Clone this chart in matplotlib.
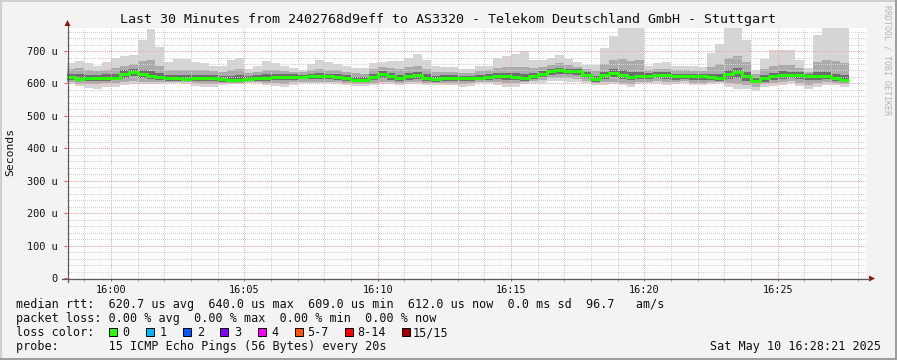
import numpy as np
import matplotlib
matplotlib.use("Agg")
import matplotlib.pyplot as plt
from matplotlib.patches import Rectangle, Polygon
from matplotlib.lines import Line2D

W, H = 897, 360
plt.rcParams['font.family'] = ['DejaVu Sans Mono', 'DejaVu Sans']

title = "Last 30 Minutes from 2402768d9eff to AS3320 - Telekom Deutschland GmbH - Stuttgart"
y_label = "Seconds"
watermark = "RRDTOOL / TOBI OETIKER"

# time axis: seconds after 15:58:21 (left edge of graph), window 1800 s
window_s = 1800
data_offset_s = -1          # first 20 s step starts at 15:58:20
step_s = 20

# median RTT per 20 s step (microseconds)
median = [620, 614, 616, 616, 617, 618, 629, 635, 629, 623,
          620, 616, 616, 614, 616, 616, 616, 614, 612, 612,
          614, 616, 617, 620, 619, 620, 620, 622, 622, 622,
          620, 616, 612, 610, 620, 629, 622, 616, 622, 625,
          617, 614, 616, 617, 616, 616, 617, 620, 622, 622,
          620, 617, 624, 630, 637, 640, 638, 637, 626, 614,
          626, 632, 626, 620, 622, 623, 626, 626, 622, 622,
          622, 622, 620, 617, 628, 635, 622, 609, 616, 622,
          626, 626, 625, 622, 622, 622, 617, 612]
# slowest ping per step
ping_max = [664, 669, 662, 653, 666, 680, 684, 687, 734, 768,
            713, 667, 674, 674, 666, 662, 655, 655, 672, 680,
            644, 655, 669, 662, 653, 647, 643, 660, 672, 666,
            660, 655, 647, 647, 663, 666, 670, 670, 680, 690,
            672, 655, 651, 651, 645, 644, 655, 655, 680, 684,
            692, 700, 672, 672, 680, 687, 676, 667, 658, 658,
            709, 746, 780, 780, 780, 655, 663, 666, 655, 655,
            655, 651, 694, 723, 780, 780, 734, 641, 676, 703,
            703, 703, 672, 647, 750, 780, 780, 780]
# fastest ping per step
ping_min = [598, 592, 586, 584, 588, 588, 595, 598, 597, 597,
            598, 600, 600, 598, 592, 588, 588, 594, 598, 598,
            600, 600, 594, 592, 590, 595, 600, 600, 600, 600,
            598, 595, 592, 592, 596, 598, 598, 596, 598, 598,
            596, 594, 596, 595, 588, 592, 600, 600, 595, 588,
            588, 598, 600, 602, 608, 608, 606, 604, 602, 594,
            596, 598, 594, 590, 598, 600, 600, 596, 598, 602,
            594, 594, 598, 600, 588, 584, 584, 577, 588, 592,
            596, 600, 592, 584, 590, 596, 594, 588]
# outer smoke band (upper / lower)
upper2 = [645, 648, 642, 638, 642, 648, 655, 660, 668, 672,
          655, 640, 643, 642, 640, 640, 638, 636, 642, 646,
          632, 636, 642, 641, 638, 636, 634, 640, 645, 643,
          640, 636, 632, 630, 645, 650, 648, 644, 650, 655,
          645, 636, 635, 636, 633, 632, 638, 640, 648, 650,
          652, 650, 648, 652, 658, 662, 656, 652, 645, 638,
          660, 672, 676, 670, 672, 640, 645, 646, 640, 640,
          638, 637, 652, 660, 680, 685, 665, 628, 645, 655,
          658, 658, 648, 636, 665, 672, 668, 662]
lower2 = [604, 599, 598, 597, 600, 601, 606, 608, 606, 605,
          604, 604, 604, 603, 600, 598, 598, 600, 602, 602,
          603, 604, 601, 600, 599, 603, 606, 606, 606, 606,
          604, 601, 598, 598, 602, 604, 603, 601, 603, 604,
          601, 600, 601, 601, 598, 600, 605, 606, 604, 600,
          600, 604, 607, 610, 616, 618, 616, 614, 609, 600,
          604, 606, 602, 598, 604, 606, 607, 604, 604, 607,
          601, 601, 604, 604, 600, 598, 595, 590, 598, 601,
          604, 607, 602, 596, 600, 604, 602, 597]
# inner smoke band (upper / lower)
upper3 = [630, 628, 626, 626, 628, 630, 640, 645, 642, 638,
          633, 626, 627, 625, 626, 626, 625, 623, 624, 625,
          622, 625, 628, 630, 628, 628, 627, 630, 631, 630,
          628, 625, 621, 619, 630, 638, 632, 627, 632, 635,
          628, 624, 625, 626, 624, 624, 626, 629, 632, 633,
          632, 628, 633, 638, 645, 648, 645, 644, 634, 624,
          636, 644, 640, 634, 636, 631, 634, 635, 630, 630,
          629, 629, 630, 630, 642, 648, 635, 618, 627, 633,
          637, 636, 634, 629, 634, 635, 630, 625]
lower3 = [612, 607, 608, 608, 609, 610, 618, 622, 618, 614,
          611, 609, 609, 607, 608, 607, 607, 606, 605, 605,
          607, 608, 609, 611, 610, 612, 613, 614, 614, 614,
          612, 608, 604, 603, 610, 616, 612, 607, 612, 614,
          608, 606, 608, 609, 607, 608, 610, 612, 613, 612,
          610, 609, 615, 620, 627, 630, 628, 626, 617, 606,
          615, 620, 614, 610, 613, 614, 616, 615, 612, 614,
          611, 611, 611, 609, 614, 618, 608, 600, 606, 611,
          615, 616, 613, 610, 611, 613, 609, 604]

y_ticks = [0, 100, 200, 300, 400, 500, 600, 700]
y_tick_labels = ["0", "100 u", "200 u", "300 u", "400 u", "500 u", "600 u", "700 u"]
y_top = 771
x_tick_secs = [99, 399, 699, 999, 1299, 1599]      # 16:00 ... 16:25
x_tick_labels = ["16:00", "16:05", "16:10", "16:15", "16:20", "16:25"]
first_minute_s = 39                                  # 15:59:00

legend_rtt = "median rtt:  620.7 us avg  640.0 us max  609.0 us min  612.0 us now  0.0 ms sd  96.7   am/s"
legend_loss = "packet loss: 0.00 % avg  0.00 % max  0.00 % min  0.00 % now"
legend_color_head = "loss color:"
loss_labels = ["0", "1", "2", "3", "4", "5-7", "8-14", "15/15"]
loss_colors = ["#26ff00", "#00b8ff", "#0059ff", "#7e00ff", "#ff00ff", "#ff5500", "#ff0000", "#a10000"]
legend_probe = "probe:       15 ICMP Echo Pings (56 Bytes) every 20s"
stamp = "Sat May 10 16:28:21 2025"

# ---------------------------------------------------------------------------
BG = "#f3f3f3"
fig = plt.figure(figsize=(W / 100, H / 100), dpi=100, facecolor=BG)


def fx(x):
    return x / W


def fy(y):
    return 1 - y / H


# 3D-like frame
fig.add_artist(Rectangle((0, fy(2)), 1, 2 / H, transform=fig.transFigure, color="#cfcfcf", lw=0))
fig.add_artist(Rectangle((0, 0), 2 / W, 1, transform=fig.transFigure, color="#cfcfcf", lw=0))
fig.add_artist(Rectangle((0, 0), 1, 2 / H, transform=fig.transFigure, color="#9e9e9e", lw=0))
fig.add_artist(Rectangle((1 - 2 / W, 0), 2 / W, 1, transform=fig.transFigure, color="#9e9e9e", lw=0))

ax = fig.add_axes([fx(67), fy(278), 800 / W, 250 / H])
ax.set_facecolor("white")
ax.set_xlim(0, window_s)
ax.set_ylim(0, y_top)
for s in ax.spines.values():
    s.set_visible(False)

n = len(median)
edges = data_offset_s + step_s * np.arange(n + 1)


def ext(a):
    a = np.asarray(a, float)
    return np.append(a, a[-1])


ax.fill_between(edges, ext(ping_min), ext(ping_max), step="post", color="#d5d5d5", lw=0, zorder=1)
ax.fill_between(edges, ext(lower2), ext(upper2), step="post", color="#ababab", lw=0, zorder=1.1)
ax.fill_between(edges, ext(lower3), ext(upper3), step="post", color="#6e6e6e", lw=0, zorder=1.2)
ax.step(edges, ext(median), where="post", color="#26ff00", lw=2.2, zorder=4,
        solid_capstyle="butt")

# grid (1 px dots, 2 px gaps)
minute_pos = np.arange(first_minute_s, window_s, 60)
dot = (0, (1, 2))
minor_col = "#d2d2d2"
major_col = "#f6a8a8"
for xm in minute_pos:
    if xm in x_tick_secs:
        ax.axvline(xm, color=major_col, lw=0.72, ls=dot, zorder=3, antialiased=False)
    else:
        ax.axvline(xm, color=minor_col, lw=0.72, ls=dot, zorder=2.9, antialiased=False)
for yv in range(20, y_top, 20):
    if yv % 100 == 0:
        ax.axhline(yv, color=major_col, lw=0.72, ls=dot, zorder=3, antialiased=False)
    else:
        ax.axhline(yv, color=minor_col, lw=0.72, ls=dot, zorder=2.9, antialiased=False)

ax.set_xticks(x_tick_secs)
ax.set_xticklabels(x_tick_labels, fontsize=7.4, color="#111111")
ax.set_xticks([m for m in minute_pos if m not in x_tick_secs], minor=True)
ax.set_yticks(y_ticks)
ax.set_yticklabels(y_tick_labels, fontsize=7.4, color="#111111")
ax.tick_params(axis="x", which="major", length=2.5, width=0.72, color="#e05050", pad=2.5, direction="out")
ax.tick_params(axis="x", which="minor", length=1.8, width=0.72, color="#a0a0a0", direction="out")
ax.tick_params(axis="y", which="major", length=2.5, width=0.72, color="#e05050", pad=4.5, direction="out")

# axis lines with arrows
axis_col = "#5a5a5a"
arrow_col = "#8a1515"
fig.add_artist(Line2D([fx(67.5), fx(67.5)], [fy(282), fy(26)], transform=fig.transFigure,
                      color=axis_col, lw=0.9))
fig.add_artist(Line2D([fx(62), fx(869)], [fy(278.5), fy(278.5)], transform=fig.transFigure,
                      color=axis_col, lw=0.9))
fig.add_artist(Polygon([[fx(67.5), fy(20)], [fx(64.5), fy(26)], [fx(70.5), fy(26)]],
                       closed=True, transform=fig.transFigure, color=arrow_col, lw=0))
fig.add_artist(Polygon([[fx(875), fy(278.5)], [fx(869), fy(275.5)], [fx(869), fy(281.5)]],
                       closed=True, transform=fig.transFigure, color=arrow_col, lw=0))

# texts
fig.text(fx(448), fy(19), title, ha="center", va="center", fontsize=9.6, color="#111111")
fig.text(fx(10), fy(152), y_label, rotation=90, ha="center", va="center", fontsize=8.2, color="#111111")
fig.text(fx(886.5), fy(5), watermark, rotation=270, ha="center", va="top", fontsize=6.0, color="#b4b4b4")

lfs = 8.5
fig.text(fx(16), fy(304.5), legend_rtt, ha="left", va="center", fontsize=lfs, color="#111111")
fig.text(fx(16), fy(318.5), legend_loss, ha="left", va="center", fontsize=lfs, color="#111111")
fig.text(fx(16), fy(332.5), legend_color_head, ha="left", va="center", fontsize=lfs, color="#111111")
fig.text(fx(16), fy(346.5), legend_probe, ha="left", va="center", fontsize=lfs, color="#111111")
fig.text(fx(881), fy(346.5), stamp, ha="right", va="center", fontsize=lfs, color="#111111")

box_x = [108.5, 146, 183, 220, 257.5, 294.5, 344.5, 402]
lab_x = [122.5, 160, 197, 234.5, 271.5, 307.5, 357, 413]
for bx, lx, lab, col in zip(box_x, lab_x, loss_labels, loss_colors):
    fig.add_artist(Rectangle((fx(bx), fy(336)), 8 / W, 8 / H, transform=fig.transFigure,
                             facecolor=col, edgecolor="black", lw=0.7))
    fig.text(fx(lx), fy(332.5), lab, ha="left", va="center", fontsize=lfs, color="#111111")

fig.savefig("out.png", dpi=100, facecolor=BG)
